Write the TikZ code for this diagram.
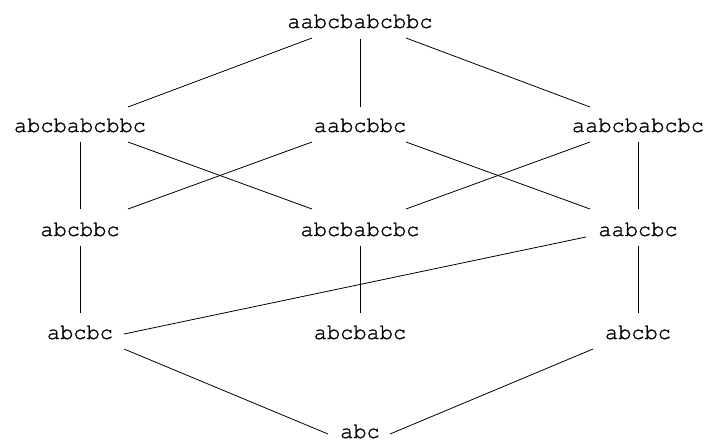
\documentclass[tikz,border=0pt]{standalone}
\usepackage{fontspec}
\newfontfamily\wordfont{TeX Gyre Cursor}[FakeBold=1.2]
\begin{document}
\begin{tikzpicture}[x=1pt,y=-1pt,
  word/.style={anchor=base, inner sep=0pt, font=\wordfont\fontsize{22}{26}\selectfont},
  link/.style={line width=0.8pt, black}]
\useasboundingbox (0,0) rectangle (706,443);
% nodes (positioned by baseline)
\node[word] (t)  at (360,28)  {aabcbabcbbc};
\node[word] (l2) at (80,132)  {abcbabcbbc};
\node[word] (m2) at (360,132) {aabcbbc};
\node[word] (r2) at (638,132) {aabcbabcbc};
\node[word] (l3) at (80,236)  {abcbbc};
\node[word] (m3) at (360,236) {abcbabcbc};
\node[word] (r3) at (638,236) {aabcbc};
\node[word] (l4) at (80,339)  {abcbc};
\node[word] (m4) at (360,339) {abcbabc};
\node[word] (r4) at (638,339) {abcbc};
\node[word] (b)  at (360,438) {abc};
% top -> row 2
\draw[link] ([shift={(-48,10)}]t.base) -- ([shift={(48,-25)}]l2.base);
\draw[link] ([shift={(0,11)}]t.base) -- ([shift={(0,-25)}]m2.base);
\draw[link] ([shift={(46,10)}]t.base) -- ([shift={(-48,-25)}]r2.base);
% row 2 -> row 3
\draw[link] ([shift={(0,10)}]l2.base) -- ([shift={(0,-27)}]l3.base);
\draw[link] ([shift={(48,10)}]l2.base) -- ([shift={(-48,-27)}]m3.base);
\draw[link] ([shift={(-48,10)}]m2.base) -- ([shift={(48,-27)}]l3.base);
\draw[link] ([shift={(46,10)}]m2.base) -- ([shift={(-48,-27)}]r3.base);
\draw[link] ([shift={(-48,10)}]r2.base) -- ([shift={(46,-27)}]m3.base);
\draw[link] ([shift={(0,10)}]r2.base) -- ([shift={(0,-27)}]r3.base);
% row 3 -> row 4
\draw[link] ([shift={(0,10)}]l3.base) -- ([shift={(0,-26)}]l4.base);
\draw[link] ([shift={(0,10)}]m3.base) -- ([shift={(0,-26)}]m4.base);
\draw[link] ([shift={(0,10)}]r3.base) -- ([shift={(0,-26)}]r4.base);
\draw[link] ([shift={(-52,1)}]r3.base) -- ([shift={(44,-5)}]l4.base);
% row 4 -> bottom
\draw[link] ([shift={(44,10)}]l4.base) -- ([shift={(-32,-4)}]b.base);
\draw[link] ([shift={(-45,10)}]r4.base) -- ([shift={(30,-4)}]b.base);
\end{tikzpicture}
\end{document}
